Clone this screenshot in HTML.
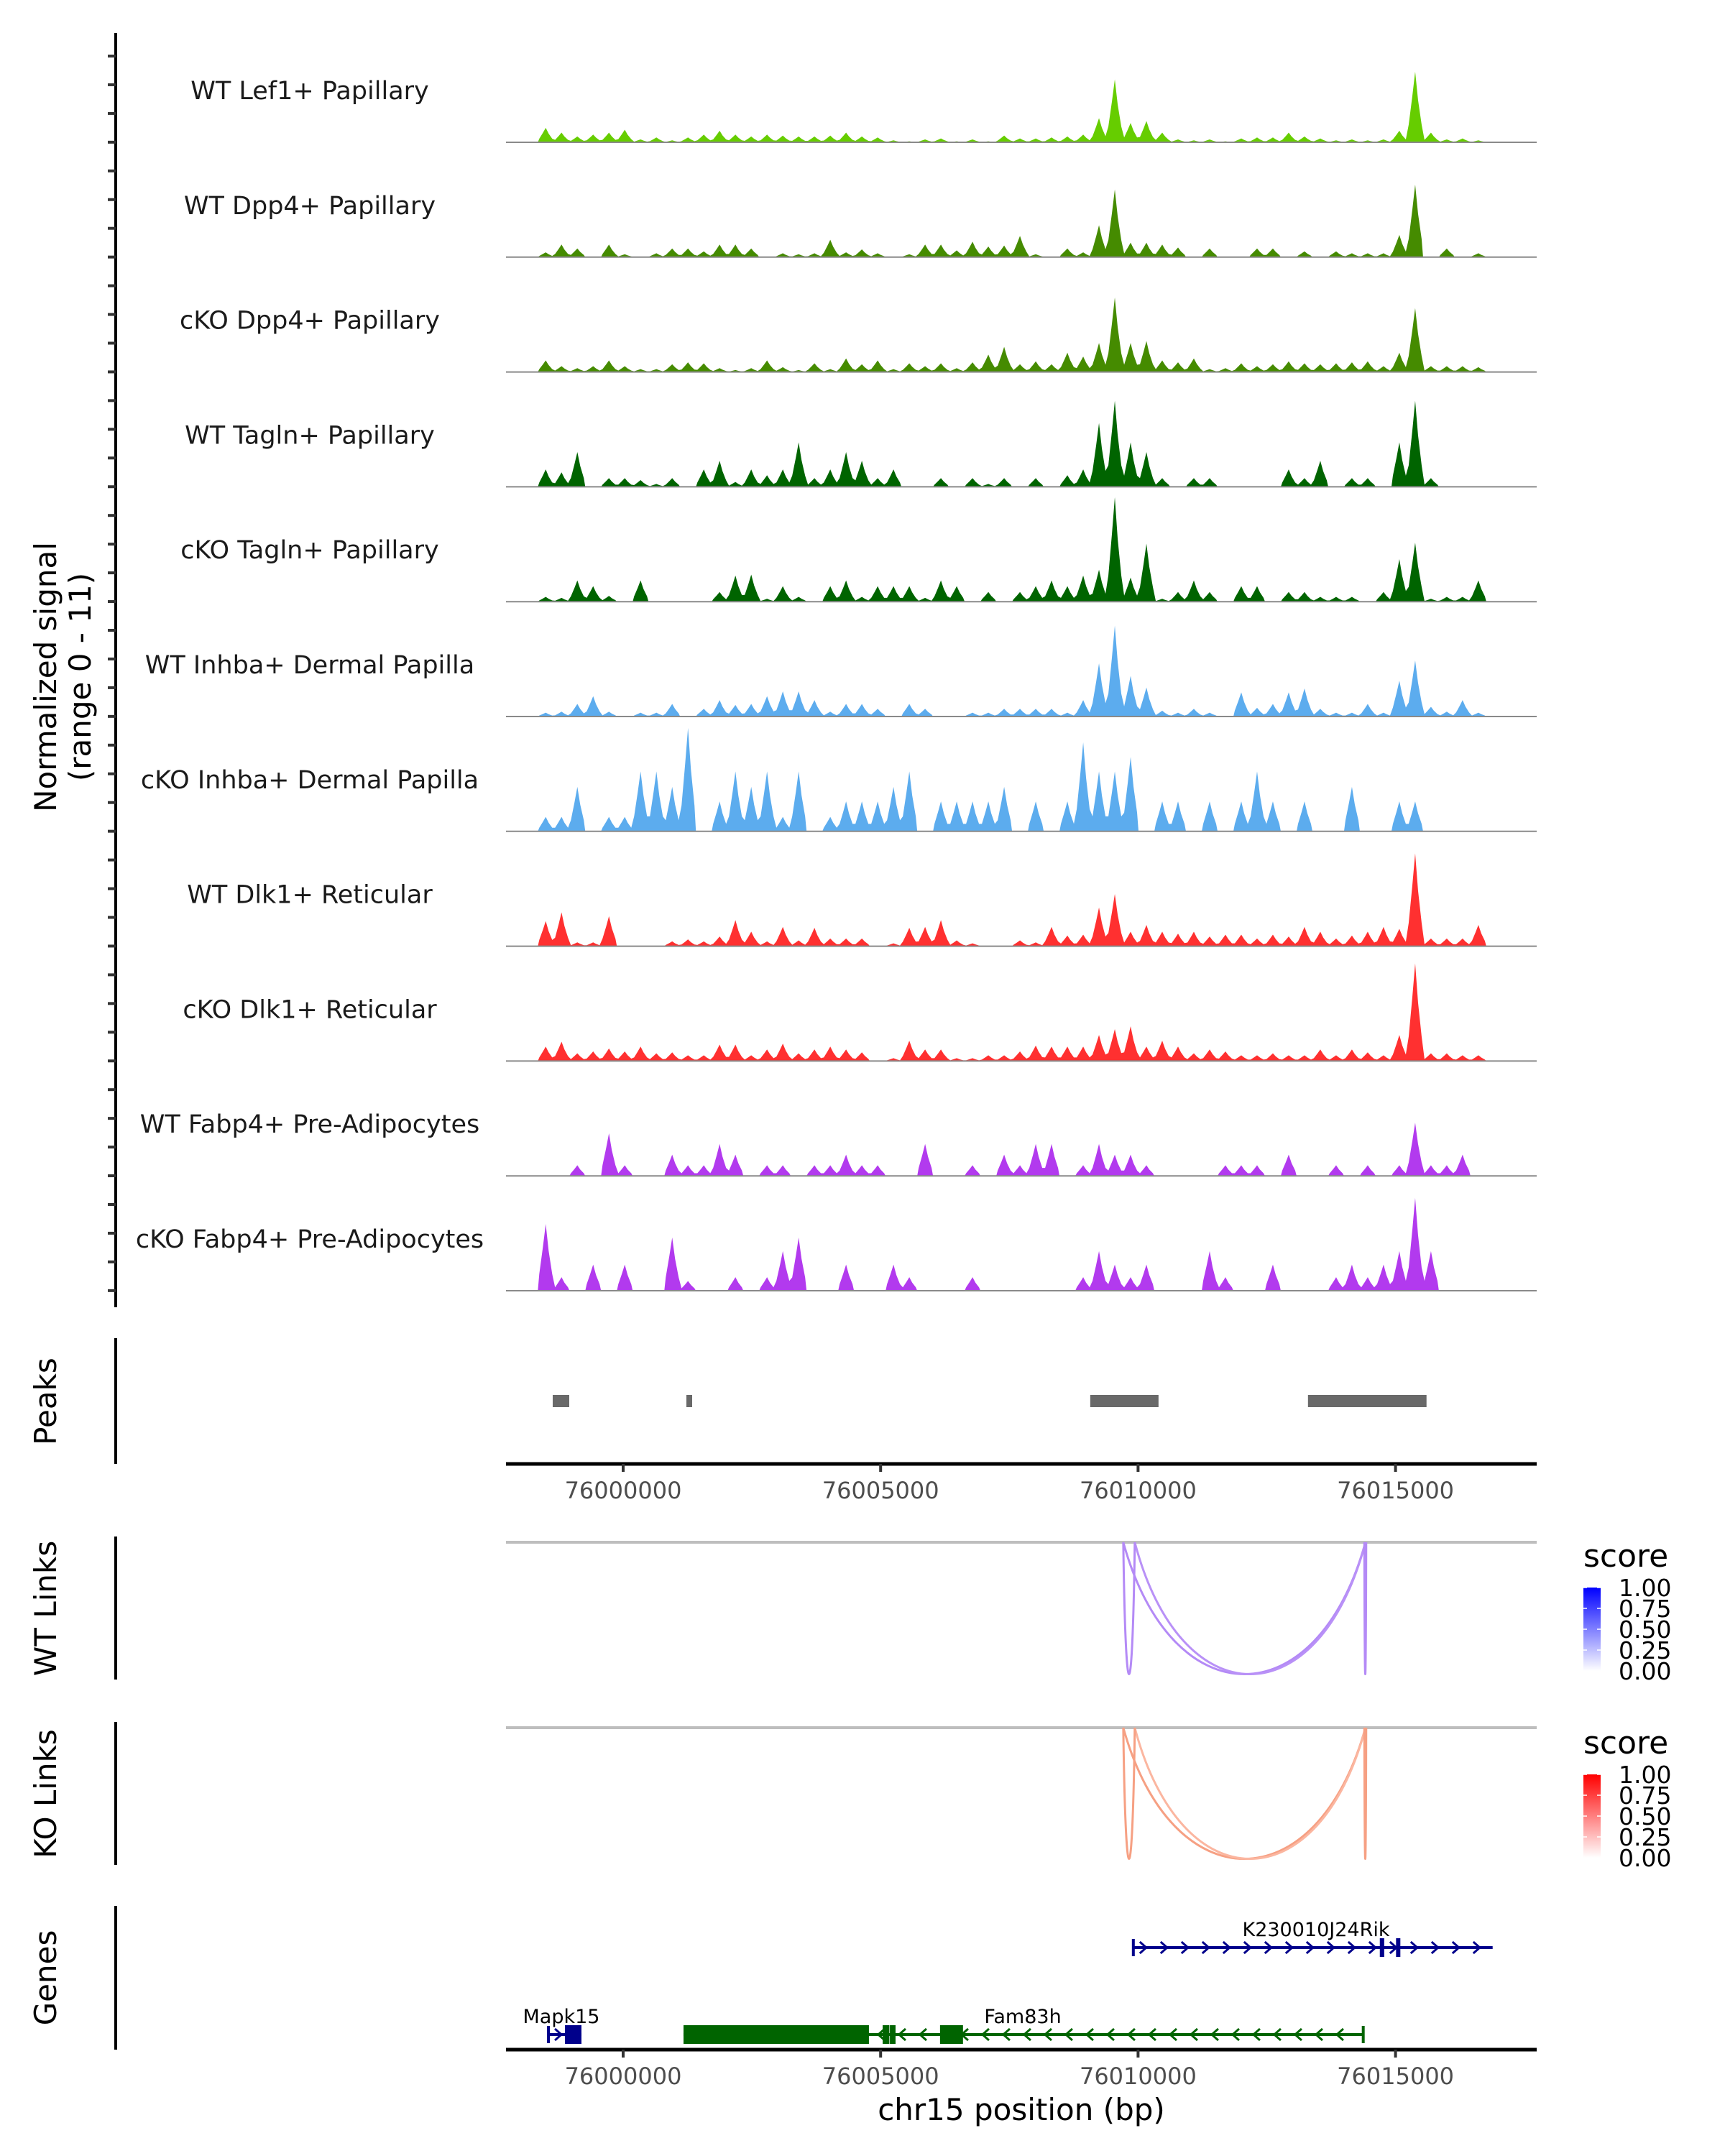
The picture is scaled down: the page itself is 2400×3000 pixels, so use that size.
<!DOCTYPE html>
<html><head><meta charset="utf-8">
<style>
html,body{margin:0;padding:0;background:#fff;}
svg{display:block;font-family:"DejaVu Sans","Liberation Sans",sans-serif;}
</style></head>
<body>
<svg id="fig" width="2400" height="3000" viewBox="0 0 2400 3000" xmlns="http://www.w3.org/2000/svg">
<defs>
<linearGradient id="gBlue" x1="0" y1="0" x2="0" y2="1"><stop offset="0" stop-color="#0000ff"/><stop offset="1" stop-color="#ffffff"/></linearGradient>
<linearGradient id="gRed" x1="0" y1="0" x2="0" y2="1"><stop offset="0" stop-color="#ff0000"/><stop offset="1" stop-color="#ffffff"/></linearGradient>
</defs>
<g id="tracks"></g>
<g id="lower"></g>
<text transform="translate(78,942) rotate(-90)" text-anchor="middle" font-size="42" fill="#000">Normalized signal</text>
<text transform="translate(126,942) rotate(-90)" text-anchor="middle" font-size="42" fill="#000">(range 0 - 11)</text>
<text transform="translate(78,1950) rotate(-90)" text-anchor="middle" font-size="42" fill="#000">Peaks</text>
<text transform="translate(78,2238) rotate(-90)" text-anchor="middle" font-size="42" fill="#000">WT Links</text>
<text transform="translate(78,2496) rotate(-90)" text-anchor="middle" font-size="42" fill="#000">KO Links</text>
<text transform="translate(78,2752) rotate(-90)" text-anchor="middle" font-size="42" fill="#000">Genes</text>
<text x="1421" y="2950" text-anchor="middle" font-size="42" fill="#000">chr15 position (bp)</text>
</svg>
<script>
const trackNames = ["WT Lef1+ Papillary","WT Dpp4+ Papillary","cKO Dpp4+ Papillary","WT Tagln+ Papillary","cKO Tagln+ Papillary","WT Inhba+ Dermal Papilla","cKO Inhba+ Dermal Papilla","WT Dlk1+ Reticular","cKO Dlk1+ Reticular","WT Fabp4+ Pre-Adipocytes","cKO Fabp4+ Pre-Adipocytes"];
const trackColors = ["#66cd00","#458b00","#458b00","#006400","#006400","#5cacee","#5cacee","#ff3030","#ff3030","#b23aee","#b23aee"];
const lef1WT = [1.5,1.0,0.6,0.8,1.0,1.3,0.3,0.5,0.2,0.5,0.8,1.2,0.8,0.6,0.8,0.7,0.6,0.6,0.7,1.0,0.6,0.5,0.2,0.1,0.3,0.4,0.1,0.3,0.1,0.7,0.4,0.4,0.5,0.6,0.8,2.5,6.5,2.0,2.2,1.0,0.3,0.2,0.3,0.1,0.4,0.5,0.5,1.0,0.6,0.4,0.2,0.3,0.2,0.3,1.2,7.3,1.0,0.3,0.4,0.2];
const dpp4WT = [0.5,1.3,0.9,0,1.3,0.3,0,0.4,0.9,0.9,0.6,1.3,1.3,0.9,0,0.4,0.3,0.4,1.8,0.5,0.8,0.4,0,0.3,1.3,1.3,0.7,1.6,1.1,1.2,2.2,0.3,0,0.9,0.5,3.3,7.0,1.5,1.5,1.3,1.0,0,0.9,0,0,0.9,0.9,0,0.6,0,0.6,0.4,0.4,0.4,2.3,7.5,0,0.9,0,0.4];
const dpp4KO = [1.2,0.6,0.4,0.6,1.2,0.6,0.3,0.3,0.8,1.0,0.9,0.4,0.2,0.4,1.2,0.5,0.2,0.9,0.3,1.4,0.8,1.2,0.3,0.9,0.6,0.9,0.4,1.0,1.8,2.6,0.8,1.1,0.8,2.0,1.6,3.0,7.7,3.0,3.2,1.2,1.0,1.4,0.3,0.4,0.9,0.6,0.8,1.1,0.9,0.8,0.9,1.0,1.1,0.6,2.0,6.6,0.6,0.6,0.6,0.5];
const taglnWT = [1.8,1.5,3.6,0,0.9,0.9,0.7,0.3,0.9,0,1.8,2.7,0.5,1.8,1.2,1.8,4.6,0.9,1.8,3.6,2.7,0.9,1.8,0,0,0.9,0,0.9,0.3,0.9,0,0.9,0,1.2,1.8,6.6,8.9,4.6,3.6,0.9,0,0.9,0.9,0,0,0,0,1.8,0.9,2.7,0,0.9,0.9,0,4.6,8.9,0.9,0,0,0];
const taglnKO = [0.5,0.4,2.2,1.6,0.6,0,2.2,0,0,0,0,1.0,2.7,2.8,0.3,1.6,0.5,0,1.6,2.2,0.5,1.6,1.6,1.6,0.4,2.2,1.6,0,1.0,0,1.0,1.6,2.2,1.6,2.7,3.3,10.8,2.5,6.0,0.3,1.0,2.2,1.0,0,1.6,1.6,0,1.0,1.0,0.5,0.5,0.5,0,1.0,4.4,6.1,0.3,0.5,0.5,2.2];
const inhbaWT = [0.4,0.5,1.3,2.1,0.5,0,0.4,0.4,1.3,0,0.8,1.7,1.2,1.3,2.1,2.6,2.6,1.7,0.5,1.3,1.3,0.8,0,1.3,0.8,0,0,0.4,0.4,0.8,0.8,0.8,0.8,0.4,1.7,5.5,9.4,4.2,3.0,0.6,0.4,0.8,0.4,0,2.5,0.9,1.3,2.5,2.9,0.8,0.4,0.4,1.3,0.4,3.7,5.8,1.0,0.5,1.7,0.4];
const inhbaKO = [1.5,1.5,4.6,0,1.5,1.5,6.2,6.2,4.6,10.7,0,3.1,6.2,4.6,6.2,1.5,6.2,0,1.5,3.1,3.1,3.1,4.6,6.2,0,3.1,3.1,3.1,3.1,4.6,0,3.1,0,3.1,9.2,6.2,6.2,7.7,0,3.1,3.1,0,3.1,0,3.1,6.2,3.1,0,3.1,0,0,4.6,0,0,3.1,3.1,0,0,0,0];
const dlk1WT = [2.6,3.5,0.4,0.4,3.1,0,0,0,0.5,0.7,0.5,1.0,2.7,1.5,0.5,2.0,0.6,1.9,0.8,0.8,0.8,0,0.3,1.9,2.0,2.7,0.6,0.3,0,0,0.6,0.4,2.0,1.1,1.2,4.0,5.4,1.5,2.2,1.5,1.3,1.5,1.0,1.2,1.2,0.8,1.2,1.0,2.0,1.5,0.8,1.1,1.5,2.0,1.8,9.6,0.8,0.8,0.8,2.2];
const dlk1KO = [1.5,2.0,0.8,1.0,1.3,1.0,1.5,0.8,0.9,0.6,0.6,1.7,1.7,0.6,1.2,1.8,0.8,1.2,1.5,1.2,0.9,0,0.3,2.1,1.2,1.2,0.3,0.3,0.6,0.6,1.0,1.6,1.5,1.5,1.5,2.7,3.3,3.6,1.5,2.1,1.5,0.8,1.2,1.0,0.6,0.6,0.8,0.6,0.6,1.2,0.6,1.2,0.9,0.6,2.7,10.1,0.8,0.8,0.6,0.6];
const fabp4WT = [0,0,1.1,0,4.4,1.1,0,0,2.2,1.1,1.1,3.3,2.2,0,1.1,1.1,0,1.1,1.1,2.2,1.1,1.1,0,0,3.3,0,0,1.1,0,2.2,1.1,3.3,3.3,0,1.1,3.3,2.2,2.2,1.1,0,0,0,0,1.1,1.1,1.1,0,2.2,0,0,1.1,0,1.1,0,1.1,5.5,1.1,1.1,2.2,0];
const fabp4KO = [6.9,1.4,0,2.7,0,2.7,0,0,5.5,1.0,0,0,1.4,0,1.4,4.1,5.5,0,0,2.7,0,0,2.7,1.4,0,0,0,1.4,0,0,0,0,0,0,1.4,4.1,2.7,1.4,2.7,0,0,0,4.1,1.4,0,0,2.7,0,0,0,1.4,2.7,1.4,2.7,4.1,9.6,4.1,0,0,0];
const trackValues = [lef1WT,dpp4WT,dpp4KO,taglnWT,taglnKO,inhbaWT,inhbaKO,dlk1WT,dlk1KO,fabp4WT,fabp4KO];
const binStartBp = 75998343;
const binSizeBp = 307;
const xTicks = [76000000,76005000,76010000,76015000];
const xTickLabels = ["76000000","76005000","76010000","76015000"];
const peakStarts = [75998632,76001228,76009071,76013300];
const peakEnds = [75998953,76001340,76010397,76015602];
const linkStarts = [76009713,76009936,76009713,76014395];
const linkEnds = [76014416,76014416,76009936,76014430];
const wtLinkColors = ["#b48af6","#b991f7","#b48af6","#b48af6"];
const koLinkColors = ["#f6a083","#fbb6a0","#f6a083","#f6a083"];
const legendTicks = ["1.00","0.75","0.50","0.25","0.00"];
const geneNames = ["Mapk15","Fam83h","K230010J24Rik"];
const geneStarts = [75998549,76001172,76009908];
const geneEnds = [75999190,76014373,76016886];
const geneStrand = [1,-1,1];
const geneRow = [1,1,0];
const exonGene = [0,1,1,1,1,2,2];
const exonStarts = [75998870,76001172,76005040,76005180,76006154,76014695,76015010];
const exonEnds = [75999190,76004773,76005170,76005290,76006600,76014780,76015080];

const NS="http://www.w3.org/2000/svg";
const X0=704, X1=2138;
function xScale(bp){return 867+(bp-76000000)/5000*358.2;}
const MAXV=11, MAXH=148;
function hScale(v){return v/MAXV*MAXH;}
function baseY(i){return 198+i*159.8;}
function mk(tag,attrs,parent){const e=document.createElementNS(NS,tag);for(const k in attrs)e.setAttribute(k,attrs[k]);parent.appendChild(e);return e;}
const tracks=document.getElementById('tracks');
const lower=document.getElementById('lower');

let ax=mk('line',{x1:161,y1:46,x2:161,y2:1819,stroke:'#000','stroke-width':4},tracks);


for(let y=78;y<=1820;y+=39.95){
  const t=mk('line',{x1:150,y1:y,x2:161,y2:y,stroke:'#333','stroke-width':4},tracks);
  
  
}
trackValues.forEach((vals,ti)=>{
  const by=baseY(ti);
  const g=mk('g',{},tracks);
  
  
  const lab=mk('text',{x:431,y:by-60,'text-anchor':'middle','font-size':35,fill:'#1a1a1a'},g);
  lab.textContent=trackNames[ti];
  
  
  const xs=vals.map((v,i)=>xScale(binStartBp+(i+0.5)*binSizeBp));
  let d=`M${xScale(binStartBp)},${by} `;
  vals.forEach((v,i)=>{
    const h=hScale(v);
    const xa=xScale(binStartBp+i*binSizeBp), xb=xScale(binStartBp+(i+1)*binSizeBp);
    const xm=xs[i];
    if(v<=0){d+=`L${xa},${by} L${xb},${by} `;return;}
    d+=`L${xa+2},${by-h*0.25} L${xm-4},${by-h*0.65} L${xm},${by-h} L${xm+4},${by-h*0.6} L${xb-2},${by-h*0.25} `;
  });
  d+=`L${xScale(binStartBp+vals.length*binSizeBp)},${by} Z`;
  const p=mk('path',{d:d,fill:trackColors[ti]},g);
  
  
  const bl=mk('line',{x1:X0,y1:by,x2:X1,y2:by,stroke:'#8a8a8a','stroke-width':2},g);
  
  
});

[[1862,2037,'peaks-y-axis-line'],[2138,2337,'wt-links-y-axis-line'],[2396,2595,'ko-links-y-axis-line'],[2652,2852,'genes-y-axis-line']].forEach(a=>{
  const l=mk('line',{x1:161,y1:a[0],x2:161,y2:a[1],stroke:'#000','stroke-width':4},lower);
  
  
});
peakStarts.forEach((s,i)=>{
  const r=mk('rect',{x:xScale(s),y:1941,width:Math.max(7,xScale(peakEnds[i])-xScale(s)),height:17,fill:'#696969'},lower);
  
  
});
function xAxis(y,name){
  const l=mk('line',{x1:X0,y1:y,x2:X1,y2:y,stroke:'#000','stroke-width':5},lower);
  
  
  xTicks.forEach((t,i)=>{
    const x=xScale(t);
    const tk=mk('line',{x1:x,y1:y,x2:x,y2:y+11,stroke:'#333','stroke-width':4},lower);
    
    
    const tx=mk('text',{x:x,y:y+48,'text-anchor':'middle','font-size':32,fill:'#4d4d4d'},lower);
    tx.textContent=xTickLabels[i];
    
    
  });
}
xAxis(2037,'peaks-x-axis');
xAxis(2852,'genes-x-axis');

function links(top,bottom,colors,name){
  const g=mk('g',{},lower);
  
  
  const l=mk('line',{x1:X0,y1:top,x2:X1,y2:top,stroke:'#bebebe','stroke-width':4},g);
  
  
  linkStarts.forEach((s,i)=>{
    const a=xScale(s),b=xScale(linkEnds[i]);
    const depth=bottom-top;
    const p=mk('path',{d:`M${a},${top} C${a+(b-a)*0.2},${top+depth*1.33} ${b-(b-a)*0.2},${top+depth*1.33} ${b},${top}`,fill:'none',stroke:colors[i],'stroke-width':3},g);
    
    
  });
}
links(2146,2330,wtLinkColors,'wt-links');
links(2404,2587,koLinkColors,'ko-links');

function legend(top,grad,name){
  const g=mk('g',{},lower);
  
  
  const t=mk('text',{x:2203,y:top,'font-size':44,fill:'#000'},g);
  t.textContent='score';
  
  
  const y0=top+29,y1=top+145;
  const r=mk('rect',{x:2203,y:y0,width:24,height:y1-y0,fill:`url(#${grad})`},g);
  
  
  legendTicks.forEach((lab,i)=>{
    const y=y0+i*(y1-y0)/4;
    const tk=mk('line',{x1:2203,y1:y,x2:2208,y2:y,stroke:'#fff','stroke-width':1.5},g);
    
    
    const tk2=mk('line',{x1:2222,y1:y,x2:2227,y2:y,stroke:'#fff','stroke-width':1.5},g);
    
    
    const tx=mk('text',{x:2252,y:y+12,'font-size':33,fill:'#000'},g);
    tx.textContent=lab;
    
    
  });
}
legend(2180,'gBlue','wt-links-legend');
legend(2440,'gRed','ko-links-legend');

const rowY=[2710,2831];
const geneColor=["#00008b","#006400","#00008b"];
geneNames.forEach((n,gi)=>{
  const y=rowY[geneRow[gi]];
  const g=mk('g',{},lower);
  
  
  const a=xScale(geneStarts[gi]),b=xScale(geneEnds[gi]),c=geneColor[gi];
  const l=mk('line',{x1:a,y1:y,x2:b,y2:y,stroke:c,'stroke-width':4},g);
  
  
  const e1=mk('line',{x1:geneStrand[gi]>0?a:b,y1:y-12,x2:geneStrand[gi]>0?a:b,y2:y+12,stroke:c,'stroke-width':4},g);
  
  
  let d='';
  for(let x=a+14;x<b-6;x+=29){
    if(geneStrand[gi]>0)d+=`M${x-5},${y-8} L${x+4},${y} L${x-5},${y+8} `;
    else d+=`M${x+5},${y-8} L${x-4},${y} L${x+5},${y+8} `;
  }
  const ch=mk('path',{d:d,fill:'none',stroke:c,'stroke-width':3},g);
  
  
  exonGene.forEach((eg,ei)=>{
    if(eg!==gi)return;
    const xa=xScale(exonStarts[ei]),xb=xScale(exonEnds[ei]);
    const r=mk('rect',{x:xa,y:y-13,width:Math.max(6,xb-xa),height:26,fill:c},g);
    
    
  });
  const lx=gi===0?(a+b)/2-5:(gi===1?1423:1831);
  const t=mk('text',{x:lx,y:y-16,'text-anchor':'middle','font-size':27,fill:'#000'},g);
  t.textContent=n;
  
  
});
</script>
</body></html>
